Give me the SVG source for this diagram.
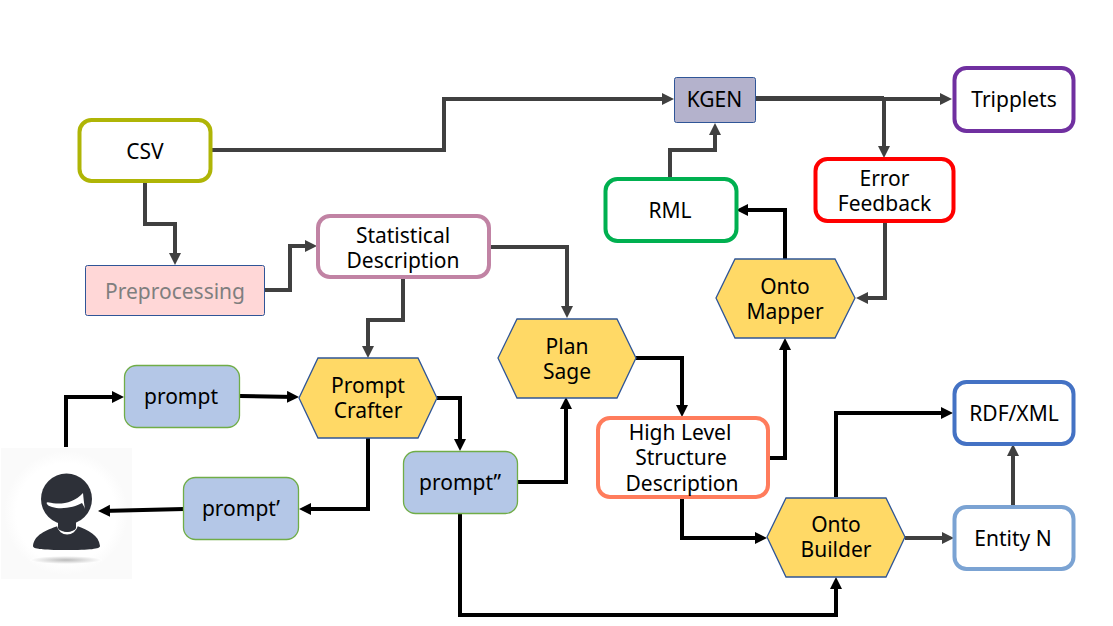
<svg xmlns="http://www.w3.org/2000/svg" width="1113" height="626" viewBox="0 0 1113 626">
<style>
text{font-family:"Noto Sans","Open Sans",sans-serif;font-size:21px;fill:#000;text-anchor:middle}
.w{fill:#fff;stroke-width:4}
.hex{fill:#ffd966;stroke:#2f5597;stroke-width:1.300}
.p{fill:#b4c7e7;stroke:#70ad47;stroke-width:1.300}
.g{fill:none;stroke:#404040;stroke-width:4;marker-end:url(#ag)}
.gn{fill:none;stroke:#404040;stroke-width:5}
.b{fill:none;stroke:#000;stroke-width:4;marker-end:url(#ab)}
</style>
<defs>
<marker id="ag" markerUnits="userSpaceOnUse" markerWidth="14" markerHeight="14" refX="8" refY="6" orient="auto"><path d="M0 0L12 6L0 12Z" fill="#404040"/></marker>
<marker id="ab" markerUnits="userSpaceOnUse" markerWidth="14" markerHeight="14" refX="8" refY="6" orient="auto"><path d="M0 0L12 6L0 12Z" fill="#000"/></marker>
<radialGradient id="halo"><stop offset="0.8" stop-color="#fff"/><stop offset="1" stop-color="#fafafa"/></radialGradient>
<radialGradient id="sh"><stop offset="0" stop-color="#bbb"/><stop offset="1" stop-color="#fff"/></radialGradient>
</defs>
<g id="user">
<rect x="1" y="448" width="131" height="131" fill="#fafafa"/>
<circle cx="66" cy="513" r="62" fill="url(#halo)"/>
<ellipse cx="66" cy="560" rx="36" ry="4" fill="url(#sh)"/>
<path d="M33 546C34 535 46 530 58 526C60 536 74 536 77 526C88 530 99 535 100 546C100 549 90 550 66 550C42 550 33 549 33 546Z" fill="#2d3038"/>
<path d="M58 521V525C60 536 74 536 77 525V521Z" fill="#2d3038" stroke="#fff" stroke-width="2.500"/>
<circle cx="66.500" cy="499" r="25.500" fill="#2d3038"/>
<path d="M58 518H76V528C74 533 60 533 58 528Z" fill="#2d3038"/>
<path d="M46.500 503C47 501 50 503 56 503.500C66 504 76 501 83 493C83.500 498 84 503 85 509C84 506 83 505 82 503C75 507 62 510 52 507C49 506 47 505 46.500 503Z" fill="#fff"/>
</g>
<g id="connectors">
<path class="g" d="M212 150H444V99H670"/>
<path class="g" d="M756 99H948"/>
<path class="gn" d="M756 98.500H884"/>
<path class="g" d="M884 99V154"/>
<path class="g" d="M670 179V150H715V127"/>
<path class="b" d="M785 259V210H740"/>
<path class="g" d="M885 222V298H860"/>
<path class="g" d="M145 182V224H175V261"/>
<path class="g" d="M265 290H290V246H313"/>
<path class="g" d="M489 247H567V314"/>
<path class="g" d="M403 279V320H368V354"/>
<path class="b" d="M66 447V397H120"/>
<path class="b" d="M240 396L295 397"/>
<path class="b" d="M437 398H460V447"/>
<path class="b" d="M368 438V509H303"/>
<path class="b" d="M184 509L102 511"/>
<path class="b" d="M517 482H566V401"/>
<path class="b" d="M636 358H682V413"/>
<path class="b" d="M768 458H785V342"/>
<path class="b" d="M682 497V538H763"/>
<path class="b" d="M460 514V615H836V581"/>
<path class="b" d="M836 497V413H949"/>
<path class="g" d="M905 538H950"/>
<path class="g" d="M1013 506V448"/>
</g>
<g id="csv"><rect class="w" x="79.500" y="120" width="131" height="61" rx="12" stroke="#afb506"/><text x="145" y="159">CSV</text></g>
<g id="preprocessing"><rect x="85.500" y="265.500" width="179" height="50" rx="2" fill="#ffd7d7" stroke="#2f5597"/><text x="175" y="299" style="fill:#7f7f7f">Preprocessing</text></g>
<g id="statistical"><rect class="w" x="318" y="216" width="171" height="61" rx="12" stroke="#c183a4"/><text x="403" y="243">Statistical</text><text x="403" y="268">Description</text></g>
<g id="kgen"><rect x="674.500" y="77.500" width="81" height="45" rx="2" fill="#b4b2cc" stroke="#2f5597"/><text x="714.500" y="107">KGEN</text></g>
<g id="tripplets"><rect class="w" x="954.500" y="68" width="119" height="63" rx="12" stroke="#7030a0"/><text x="1014" y="107">Tripplets</text></g>
<g id="error"><rect class="w" x="815.500" y="159" width="138" height="62" rx="12" stroke="#ff0000"/><text x="884.500" y="186">Error</text><text x="884.500" y="211">Feedback</text></g>
<g id="rml"><rect class="w" x="605.500" y="179" width="131" height="62" rx="12" stroke="#00b050"/><text x="670" y="218">RML</text></g>
<g id="ontomapper"><path class="hex" d="M735 259H835L855 298L835 338H735L716 298Z"/><text x="785" y="294">Onto</text><text x="785" y="319">Mapper</text></g>
<g id="plansage"><path class="hex" d="M517 319H617L636 358L617 398H517L498 358Z"/><text x="567" y="354">Plan</text><text x="567" y="379">Sage</text></g>
<g id="promptcrafter"><path class="hex" d="M318 358H418L437 398L418 438H318L299 398Z"/><text x="368" y="393">Prompt</text><text x="368" y="418">Crafter</text></g>
<g id="ontobuilder"><path class="hex" d="M786 498H886L905 537L886 577H786L767 537Z"/><text x="836" y="532">Onto</text><text x="836" y="557">Builder</text></g>
<g id="prompt"><rect class="p" x="124.500" y="365.500" width="115" height="62" rx="12"/><text x="181" y="404">prompt</text></g>
<g id="prompt1"><rect class="p" x="183.500" y="477.500" width="115" height="62" rx="12"/><text x="241" y="516">prompt’</text></g>
<g id="prompt2"><rect class="p" x="403.500" y="451.500" width="114" height="62" rx="12"/><text x="460" y="490">prompt”</text></g>
<g id="highlevel"><rect class="w" x="598" y="418" width="170" height="79" rx="12" stroke="#ff7c5c"/><text x="680" y="440">High Level</text><text x="681" y="465">Structure</text><text x="682" y="491">Description</text></g>
<g id="rdfxml"><rect class="w" x="954.500" y="382" width="119" height="62" rx="12" stroke="#4472c4"/><text x="1014" y="421">RDF/XML</text></g>
<g id="entityn"><rect class="w" x="954.500" y="507" width="119" height="62" rx="12" stroke="#7ba3d3"/><text x="1013" y="546">Entity N</text></g>
</svg>
